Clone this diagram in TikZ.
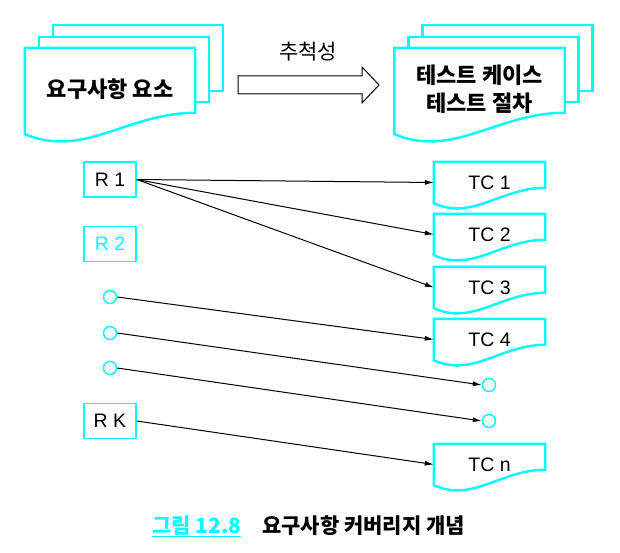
\documentclass[tikz,border=0pt]{standalone}
\usepackage{fontspec}
\setmainfont{Liberation Sans}
\newfontfamily\kr{Noto Sans CJK KR}
\usetikzlibrary{arrows.meta,calc,positioning}
\definecolor{docline}{RGB}{0,255,255}

\begin{document}
\begin{tikzpicture}[x=1pt,y=-1pt]
    \tikzstyle{doc} = [minimum width=170pt, minimum height=86pt, inner sep=0pt, align=center, text depth=6pt, font=\kr\bfseries\fontsize{22}{28}\selectfont];
    \tikzstyle{tc} = [minimum width=111pt, minimum height=41pt, inner sep=0pt, font=\fontsize{19.5}{19}\selectfont];
    \tikzstyle{req} = [draw=docline, line width=1.5pt, minimum width=52pt, minimum height=35pt, inner sep=0pt, font=\fontsize{19.5}{19}\selectfont];
    \tikzstyle{dot} = [shape=circle, draw=docline, line width=1.5pt, minimum size=13pt, inner sep=0pt];
    \tikzstyle{sheet} = [draw=docline, line width=2.4pt, line join=miter];
    \tikzstyle{link} = [-{Latex[length=9pt,width=5pt]}, line width=1pt];

    \useasboundingbox (0,0) rectangle (620,553);

    % document stacks
    \node[doc] (REQ) at (110,91) {요구사항 요소};
    \node[doc] (TCS) at (479.5,91) {테스트 케이스\\테스트 절차};

    \node[font=\kr\fontsize{21}{21}\selectfont] (TRACE) at (308,52) {추척성};
    \draw[line width=1pt, line join=miter] (238,76) -- (362,76) -- (362,67) -- (379,85) -- (362,103) -- (362,94) -- (238,94) -- cycle;

    % requirements
    \node[req] (R1) at (110,179.5) {R 1};
    \node[req, text=docline] (R2) at (110,244) {R 2};
    \node[dot] (C1) at (110,297) {};
    \node[dot] (C2) at (110,333) {};
    \node[dot] (C3) at (110,368) {};
    \node[req] (RK) at (110,421) {R K};

    % test cases
    \node[tc] (TC1) at (489.5,182.5) {TC 1};
    \node[tc] (TC2) at (489.5,234.5) {TC 2};
    \node[tc] (TC3) at (489.5,287.5) {TC 3};
    \node[tc] (TC4) at (489.5,339.5) {TC 4};
    \node[dot] (D1) at (489,385) {};
    \node[dot] (D2) at (489,421) {};
    \node[tc] (TCn) at (489.5,464.5) {TC n};

    \foreach \n in {REQ,TCS} {
        \draw[sheet] ($(\n.north west)+(28,-11)$) -- ++(0,-12) -- ++(170,0) -- ++(0,66) -- ++(-14,0);
        \draw[sheet] ($(\n.north west)+(14,0)$) -- ++(0,-11) -- ++(170,0) -- ++(0,65) -- ++(-14,0);
    }
    \foreach \n/\h/\p in {REQ/65/111, TCS/65/111, TC1/26/59, TC2/26/59, TC3/26/59, TC4/26/59, TCn/26/59} {
        \draw[sheet] (\n.south west) -- (\n.north west) -- (\n.north east) -- ($(\n.north east)+(0,\h)$)
            .. controls ($(\n.north west)!0.6!(\n.north east)+(0,\h)$) and ($(\n.north west)!0.35!(\n.north east)+(0,\p)$) .. (\n.south west) -- cycle;
    }

    \draw[link] (R1.east) -- (TC1.west);
    \draw[link] (R1.east) -- (TC2.west);
    \draw[link] (R1.east) -- (TC3.west);
    \draw[link] (C1.east) -- (TC4.west);
    \draw[link] (C2.east) -- (D1.west);
    \draw[link] (C3.east) -- (D2.west);
    \draw[link] (RK.east) -- (TCn.west);

    % caption
    \node[font=\kr\bfseries\fontsize{21}{21}\selectfont] (CAP) at (308.5,526) {\textcolor{docline}{\underline{그림 12.8}}\hspace{1em}요구사항 커버리지 개념};
\end{tikzpicture}
\end{document}
